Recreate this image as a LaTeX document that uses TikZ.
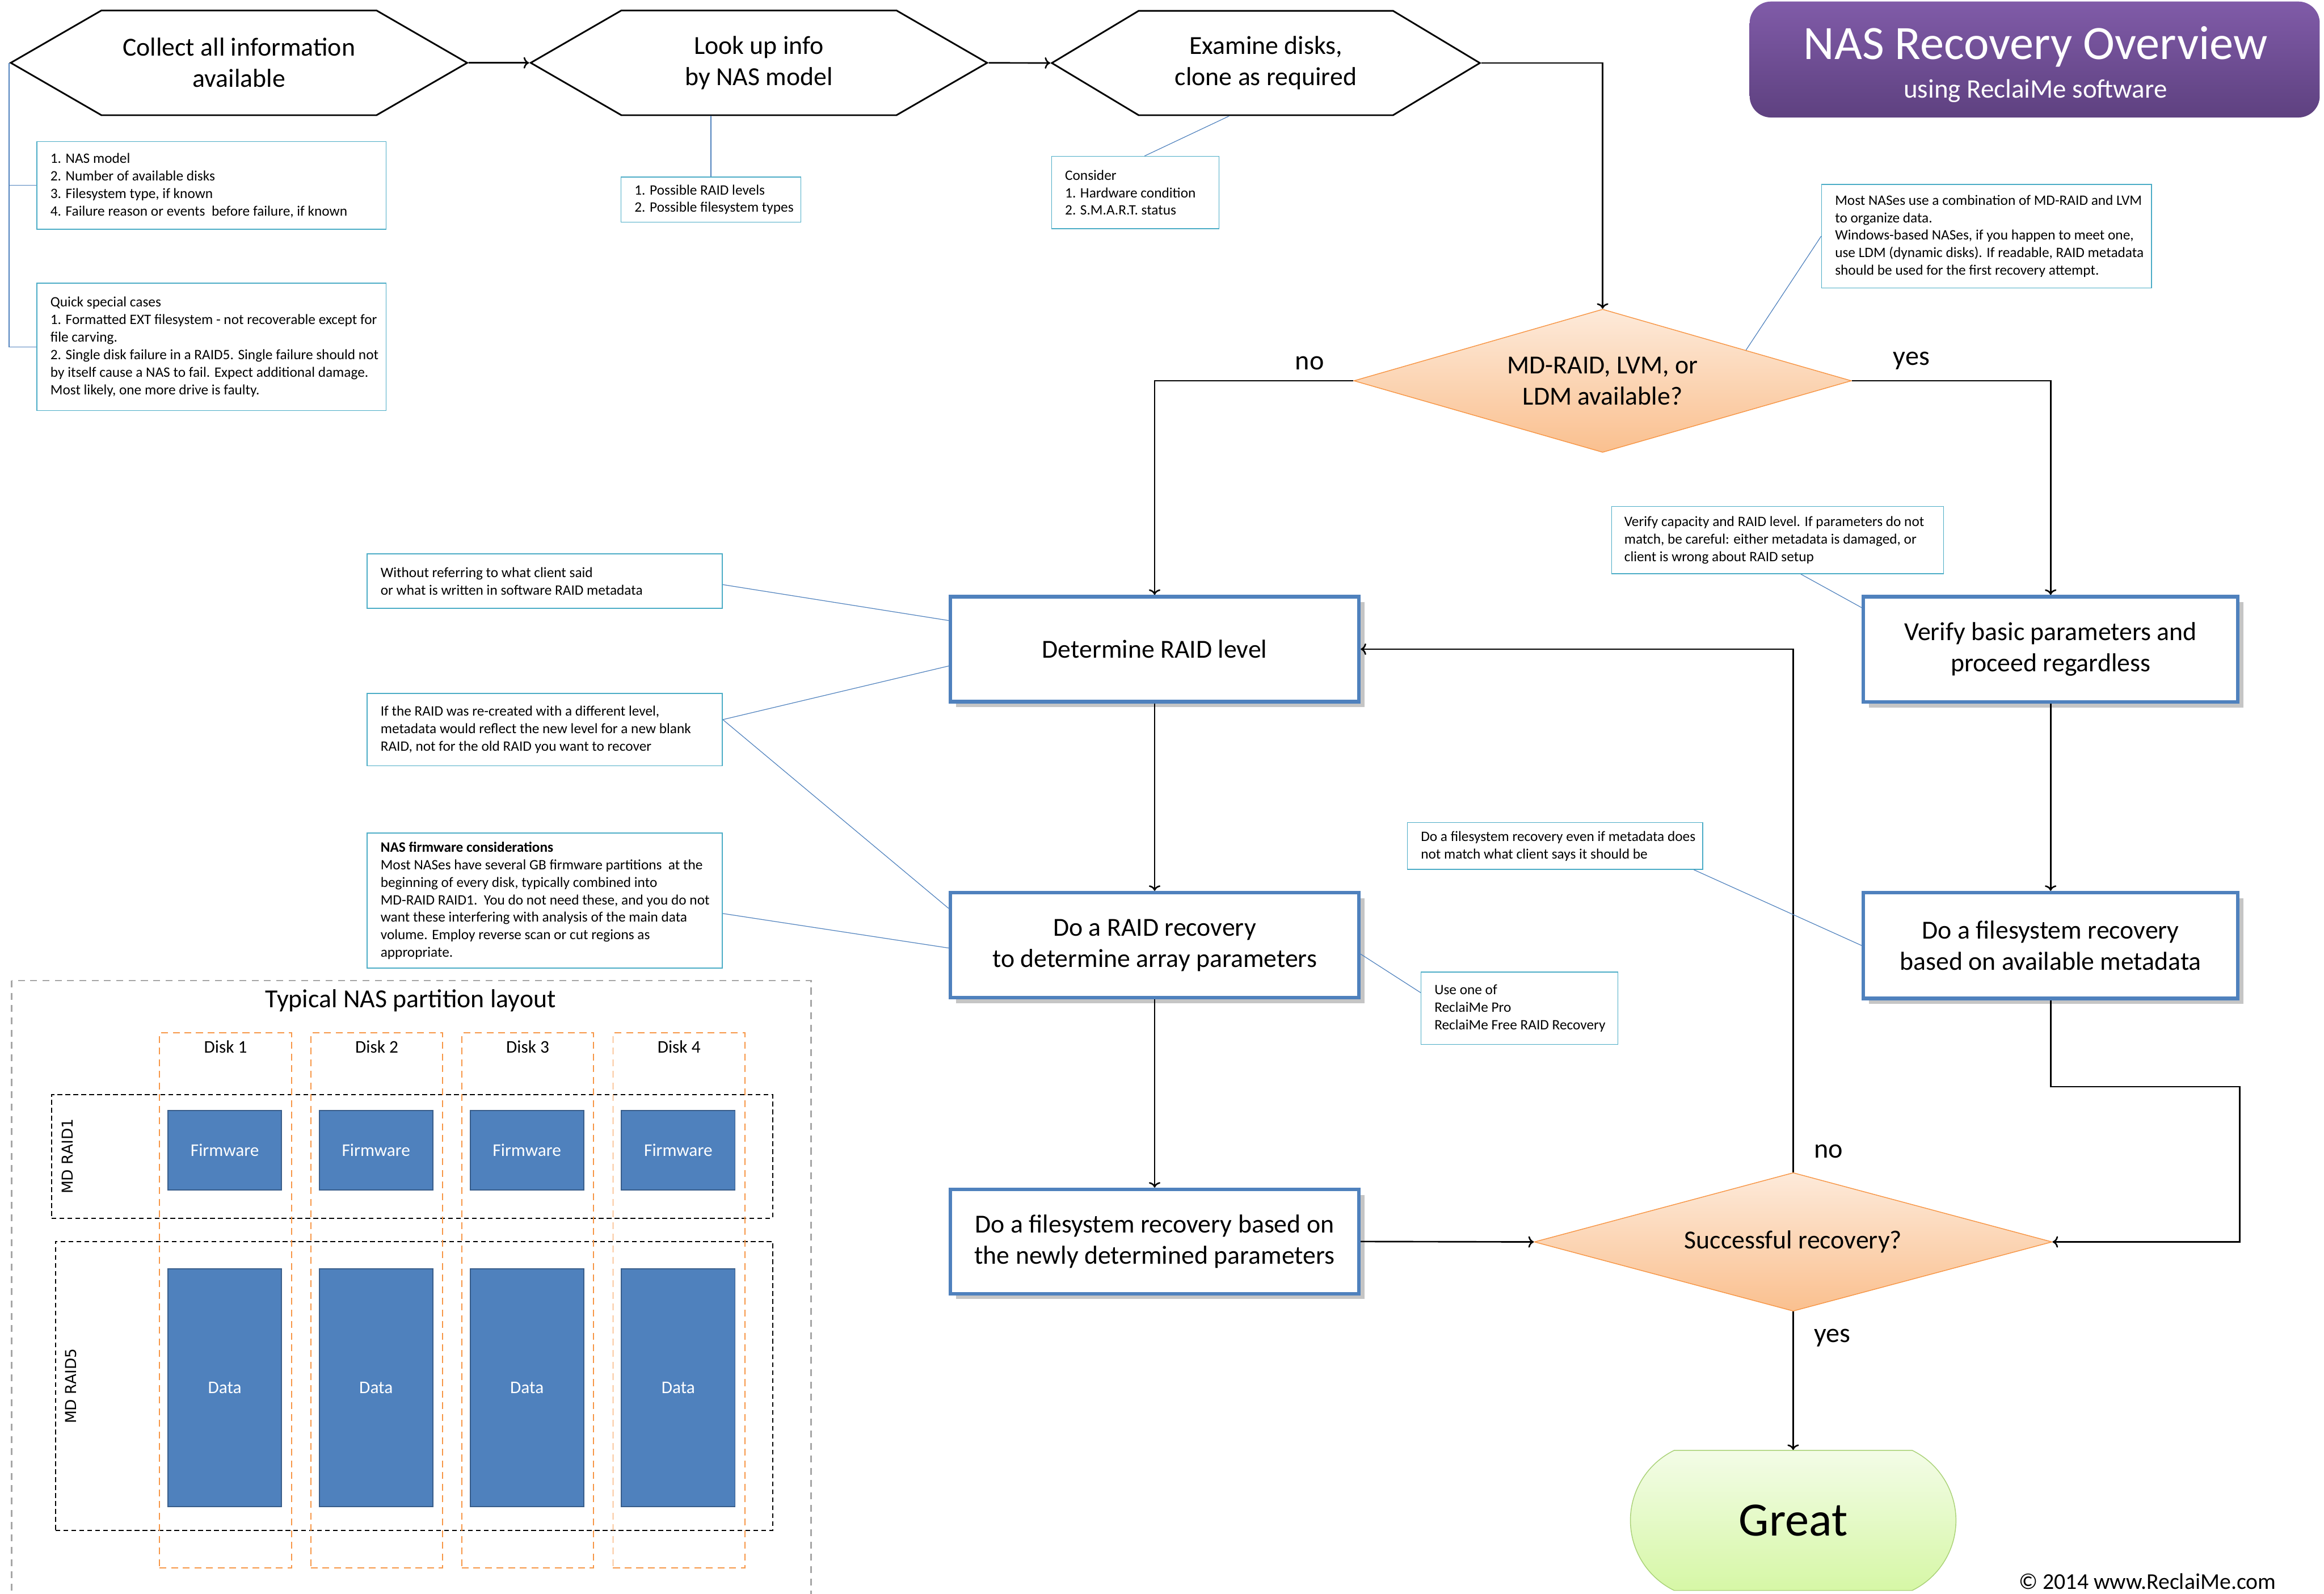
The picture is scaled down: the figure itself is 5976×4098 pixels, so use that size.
\documentclass[tikz,border=0pt]{standalone}
\usepackage{fontspec}
\setmainfont{Carlito}
\newfontfamily\raidfont{DejaVu Sans}
\usepackage{tikz}
\usetikzlibrary{calc,arrows.meta,shapes.geometric,shapes.symbols,shapes.misc,shadows}

\definecolor{boxblue}{RGB}{79,129,189}
\definecolor{boxdark}{RGB}{56,93,138}
\definecolor{noteline}{RGB}{75,172,198}
\definecolor{dorange}{RGB}{247,150,70}
\definecolor{dtop}{RGB}{253,234,218}
\definecolor{dbottom}{RGB}{250,192,143}
\definecolor{gtop}{RGB}{243,252,231}
\definecolor{gbottom}{RGB}{214,247,166}
\definecolor{gline}{RGB}{170,210,120}
\definecolor{ttop}{RGB}{128,91,168}
\definecolor{tbottom}{RGB}{94,65,128}
\definecolor{framegray}{RGB}{166,166,166}

\begin{document}
\begin{tikzpicture}[x=0.01cm, y=-0.01cm, >=To,
    every node/.style={font=\fontsize{19}{22.8}\selectfont},
    hexa/.style={signal, signal to=west and east, signal pointer angle=60, draw, line width=1.2pt, minimum width=11.73cm, minimum height=2.69cm, align=center, inner sep=0pt},
    procbox/.style={draw=boxblue, line width=2.6pt, fill=white, align=center, drop shadow={shadow xshift=0.14cm, shadow yshift=-0.14cm, opacity=0.5, fill=black!45}},
    choice/.style={diamond, aspect=3.5, draw=dorange, line width=0.6pt, top color=dtop, bottom color=dbottom, align=center, inner sep=0pt},
    flow/.style={->, line width=1.1pt},
    link/.style={draw=boxblue, line width=0.5pt},
    lab/.style={font=\fontsize{20}{24}\selectfont},
    notebox/.style={draw=noteline, line width=0.6pt, fill=white, anchor=north west, inner sep=0pt},
    notetext/.style={anchor=west, align=left, inner sep=0pt, font=\fontsize{10.5}{12.8}\selectfont},
    diskcol/.style={draw=dorange, dash pattern=on 5pt off 3.5pt, line width=0.8pt, minimum width=3.39cm, minimum height=13.75cm},
    raidgrp/.style={draw, dash pattern=on 3.5pt off 2.3pt, line width=0.9pt},
    part/.style={fill=boxblue, draw=boxdark, line width=0.8pt, minimum width=2.92cm, text=white, font=\fontsize{13}{16}\selectfont},
    disklab/.style={font=\fontsize{13}{16}\selectfont}]
    \useasboundingbox (0,0) rectangle (5976,4098);

    % title
    \node[rounded corners=0.55cm, top color=ttop, bottom color=tbottom, minimum width=14.65cm, minimum height=2.98cm] (title) at (5232,153) {};
    \node[anchor=base, text=white, font=\fontsize{35}{42}\selectfont] (ttl1) at (5234,153) {NAS Recovery Overview};
    \node[anchor=base, text=white, font=\fontsize{19.5}{23}\selectfont] (ttl2) at (5234,251) {using ReclaiMe software};

    % first steps along the top
    \node[hexa] (hex1) at (614.5,161.5) {Collect all information\\available};
    \node[hexa] (hex2) at (1951.5,161.5) {Look up info\\by NAS model};
    \node[hexa, minimum width=11cm, minimum height=2.68cm, signal pointer angle=62] (hex3) at (3255,162) {Examine disks,\\clone as required};

    % decisions
    \node[choice, minimum width=12.79cm, minimum height=3.68cm] (d1) at (4121,979) {MD-RAID, LVM, or\\LDM available?};
    \node[choice, minimum width=13.31cm, minimum height=3.56cm] (d2) at (4611,3193) {Successful recovery?};

    % recovery steps
    \node[procbox, minimum width=10.5cm, minimum height=2.7cm] (det) at (2969,1669) {Determine RAID level};
    \node[procbox, minimum width=10.5cm, minimum height=2.7cm] (raid) at (2969,2430) {Do a RAID recovery\\to determine array parameters};
    \node[procbox, minimum width=10.5cm, minimum height=2.68cm] (fsl) at (2969,3192) {Do a filesystem recovery based on\\the newly determined parameters};
    \node[procbox, minimum width=9.62cm, minimum height=2.71cm] (verify) at (5273,1669.5) {Verify basic parameters and\\proceed regardless};
    \node[procbox, minimum width=9.62cm, minimum height=2.72cm] (fsr) at (5273,2431) {Do a filesystem recovery\\based on available metadata};

    \node[rounded rectangle, rounded rectangle arc length=128, draw=gline, line width=0.6pt, top color=gtop, bottom color=gbottom, minimum width=8.6cm, minimum height=3.6cm, font=\fontsize{35}{42}\selectfont] (great) at (4611,3909) {Great};

    % main flow
    \draw[flow] (hex1.east) -- (hex2.west);
    \draw[flow] (hex2.east) -- (hex3.west);
    \draw[flow] (hex3.east) -| (d1.north);
    \draw[flow] (d1.west) -| node[lab, pos=0.11, above=0.15cm] {no} (det.north);
    \draw[flow] (d1.east) -| node[lab, pos=0.15, above=0.15cm] {yes} (verify.north);
    \draw[flow] (det.south) -- (raid.north);
    \draw[flow] (raid.south) -- (fsl.north);
    \draw[flow] (fsl.east) -- (d2.west);
    \draw[flow] (verify.south) -- (fsr.north);
    \draw[flow] (fsr.south) -- ++(0,222) -| (fsr.east |- d2.east) -- (d2.east);
    \draw[flow] (d2.north) |- node[lab, pos=0.02, right=0.4cm] {no} (det.east);
    \draw[flow] (d2.south) -- node[lab, pos=0.19, right=0.4cm] {yes} (great.north);

    % side notes
    \node[notebox, minimum width=8.97cm, minimum height=2.25cm] (n1) at (94,363) {};
    \node[notetext] (n1t) at ([xshift=0.35cm]n1.west) {1. NAS model\\2. Number of available disks\\3. Filesystem type, if known\\4. Failure reason or events\ \ before failure, if known};
    \node[notebox, minimum width=8.97cm, minimum height=3.27cm] (n2) at (94,727) {};
    \node[notetext] (n2t) at ([xshift=0.35cm]n2.west) {Quick special cases\\1. Formatted EXT filesystem - not recoverable except for\\file carving.\\2. Single disk failure in a RAID5. Single failure should not\\by itself cause a NAS to fail. Expect additional damage.\\Most likely, one more drive is faulty.};
    \node[notebox, minimum width=4.62cm, minimum height=1.16cm] (n3) at (1596,454) {};
    \node[notetext] (n3t) at ([xshift=0.35cm]n3.west) {1. Possible RAID levels\\2. Possible filesystem types};
    \node[notebox, minimum width=4.30cm, minimum height=1.86cm] (n4) at (2703,401) {};
    \node[notetext] (n4t) at ([xshift=0.35cm]n4.west) {Consider\\1. Hardware condition\\2. S.M.A.R.T. status};
    \node[notebox, minimum width=8.48cm, minimum height=2.66cm] (n5) at (4683,473) {};
    \node[notetext] (n5t) at ([xshift=0.35cm]n5.west) {Most NASes use a combination of MD-RAID and LVM\\to organize data.\\Windows-based NASes, if you happen to meet one,\\use LDM (dynamic disks). If readable, RAID metadata\\should be used for the first recovery attempt.};
    \node[notebox, minimum width=8.53cm, minimum height=1.73cm] (n6) at (4143,1301) {};
    \node[notetext] (n6t) at ([xshift=0.33cm]n6.west) {Verify capacity and RAID level. If parameters do not\\match, be careful: either metadata is damaged, or\\client is wrong about RAID setup};
    \node[notebox, minimum width=7.59cm, minimum height=1.20cm] (n7) at (3618,2114) {};
    \node[notetext] (n7t) at ([xshift=0.35cm]n7.west) {Do a filesystem recovery even if metadata does\\not match what client says it should be};
    \node[notebox, minimum width=5.06cm, minimum height=1.86cm] (n8) at (3653,2498) {};
    \node[notetext] (n8t) at ([xshift=0.35cm]n8.west) {Use one of\\ReclaiMe Pro\\ReclaiMe Free RAID Recovery};
    \node[notebox, minimum width=9.13cm, minimum height=1.40cm] (n9) at (943,1423) {};
    \node[notetext] (n9t) at ([xshift=0.35cm]n9.west) {Without referring to what client said\\or what is written in software RAID metadata};
    \node[notebox, minimum width=9.13cm, minimum height=1.86cm] (n10) at (943,1782) {};
    \node[notetext] (n10t) at ([xshift=0.35cm]n10.west) {If the RAID was re-created with a different level,\\metadata would reflect the new level for a new blank\\RAID, not for the old RAID you want to recover};
    \node[notebox, minimum width=9.13cm, minimum height=3.47cm] (n11) at (943,2141) {};
    \node[notetext] (n11t) at ([xshift=0.35cm]n11.west) {\textbf{NAS firmware considerations}\\Most NASes have several GB firmware partitions\ \ at the\\beginning of every disk, typically combined into\\MD-RAID RAID1.\ \ You do not need these, and you do not\\want these interfering with analysis of the main data\\volume. Employ reverse scan or cut regions as\\appropriate.};

    % thin links to the notes
    \draw[link] (hex1.west) |- (n1.west);
    \draw[link] (hex1.west) |- (n2.west);
    \draw[link] (n3.north) -- (n3.north |- hex2.south);
    \draw[link] ($(n4.north)+(24,0)$) -- ($(hex3.south)+(-94,0)$);
    \draw[link] (n5.west) -- ($(d1.north)!0.575!(d1.east)$);
    \draw[link] ($(n6.south)+(60,0)$) -- ($(verify.north west)+(0,33)$);
    \draw[link] ($(n7.south east)+(-24,0)$) -- (fsr.west);
    \draw[link] ($(raid.east)+(0,23)$) -- ($(n8.west)+(0,-40)$);
    \draw[link] ($(n9.east)+(0,9)$) -- ($(det.north west)+(0,66)$);
    \draw[link] ($(n10.east)+(0,-26)$) -- ($(det.north west)+(0,183)$);
    \draw[link] ($(n10.east)+(0,-26)$) -- ($(raid.north west)+(0,45)$);
    \draw[link] ($(n11.east)+(0,33)$) -- ($(raid.north west)+(0,147)$);

    % partition layout
    \draw[draw=framegray, line width=1.2pt, dash pattern=on 5pt off 4pt] (30,2521) rectangle (2085,4170);
    \node[anchor=base] (ttlay) at (1056,2591) {Typical NAS partition layout};

    \node[raidgrp, minimum width=18.53cm, minimum height=3.17cm] (grp1) at (1059.5,2973.5) {};
    \node[raidgrp, minimum width=18.43cm, minimum height=7.43cm] (grp5) at (1064.5,3563.5) {};
    \node[rotate=90, font=\raidfont\fontsize{11}{13}\selectfont] (lr1) at (174,2973) {MD RAID1};
    \node[rotate=90, font=\raidfont\fontsize{11}{13}\selectfont] (lr5) at (182,3564) {MD RAID5};

    \node[diskcol] (dk1) at (580,3343.5) {};
    \node[diskcol] (dk2) at (969,3343.5) {};
    \node[diskcol] (dk3) at (1357,3343.5) {};
    \node[diskcol] (dk4) at (1746,3343.5) {};
    \node[disklab] (lb1) at (580,2692) {Disk 1};
    \node[disklab] (lb2) at (969,2692) {Disk 2};
    \node[disklab] (lb3) at (1357,2692) {Disk 3};
    \node[disklab] (lb4) at (1746,2692) {Disk 4};

    \node[part, minimum height=2.05cm] (fw1) at (578,2957.5) {Firmware};
    \node[part, minimum height=2.05cm] (fw2) at (967,2957.5) {Firmware};
    \node[part, minimum height=2.05cm] (fw3) at (1355,2957.5) {Firmware};
    \node[part, minimum height=2.05cm] (fw4) at (1744,2957.5) {Firmware};
    \node[part, minimum height=6.12cm] (dt1) at (578,3568) {Data};
    \node[part, minimum height=6.12cm] (dt2) at (967,3568) {Data};
    \node[part, minimum height=6.12cm] (dt3) at (1355,3568) {Data};
    \node[part, minimum height=6.12cm] (dt4) at (1744,3568) {Data};

    \node[anchor=base, font=\fontsize{16.5}{20}\selectfont] (copy) at (5522,4086) {\textcopyright{} 2014 www.ReclaiMe.com};
\end{tikzpicture}
\end{document}
